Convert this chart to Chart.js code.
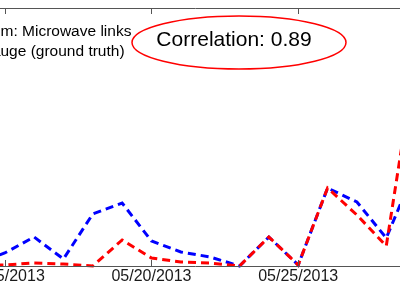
<!DOCTYPE html>
<html>
<head>
<meta charset="utf-8">
<script src="https://cdn.jsdelivr.net/npm/chart.js@4.4.1/dist/chart.umd.min.js"></script>
<style>
  html, body { margin: 0; padding: 0; background: #fff; overflow: hidden; width: 400px; height: 284px; }
  #wrap { position: absolute; left: -142px; top: 0; }
</style>
</head>
<body>
<div id="wrap"><canvas id="chart" width="675" height="284"></canvas></div>
<script>
// the plot is a crop of a wider figure: canvas is shifted left by this much
const OFFSET_X = 142;

// day of May 2013
const days = [14, 15, 16, 17, 18, 19, 20, 21, 22, 23, 24, 25, 26, 27, 28, 29];
const linksRain = [0.2, 1.3, 2.9, 0.7, 5.2, 6.3, 2.5, 1.4, 0.9, 0.0, 2.9, 0.1, 7.8, 6.4, 2.8, 9.8];
const gaugeRain = [0.1, 0.1, 0.3, 0.2, 0.0, 2.6, 0.8, 0.4, 0.3, 0.0, 2.9, 0.1, 7.8, 5.1, 2.0, 20.8];
const tickDays = [15, 20, 25, 30];
const legendLabels = ['Algorithm: Microwave links', 'Rain gauge (ground truth)'];
const correlationText = 'Correlation: 0.89';

const FONT = '"Liberation Sans", Arial, sans-serif';

const toPoints = vals => days.map((d, i) => ({ x: d, y: vals[i] }));

const framePlugin = {
  id: 'frame',
  afterDatasetsDraw(chart) {
    const { ctx, chartArea: a, scales: { x } } = chart;
    ctx.save();
    ctx.strokeStyle = '#555';
    ctx.lineWidth = 1;
    ctx.beginPath();
    ctx.moveTo(a.left, a.top + 0.5); ctx.lineTo(a.right, a.top + 0.5);
    ctx.moveTo(a.left, a.bottom + 0.5); ctx.lineTo(a.right, a.bottom + 0.5);
    tickDays.forEach(d => {
      const px = Math.round(x.getPixelForValue(d)) + 0.5;
      ctx.moveTo(px, a.top); ctx.lineTo(px, a.top + 6);
      ctx.moveTo(px, a.bottom); ctx.lineTo(px, a.bottom - 6);
    });
    ctx.stroke();
    ctx.restore();
  },
  afterDraw(chart) {
    const ctx = chart.ctx;
    ctx.save();
    // legend (box off, its left part is outside the crop)
    ctx.font = '15.5px ' + FONT;
    ctx.fillStyle = '#000';
    ctx.textBaseline = 'middle';
    ctx.textAlign = 'left';
    ctx.fillText(legendLabels[0], OFFSET_X + 0.5 - ctx.measureText('Algorith').width, 32);
    ctx.fillText(legendLabels[1], OFFSET_X + 0.5 - ctx.measureText('Rain ga').width, 52);

    // correlation bubble
    ctx.strokeStyle = '#ff0000';
    ctx.lineWidth = 1.5;
    ctx.beginPath();
    ctx.ellipse(OFFSET_X + 239, 42.5, 107, 26.5, 0, 0, Math.PI * 2);
    ctx.stroke();
    ctx.font = '21px ' + FONT;
    ctx.textAlign = 'center';
    ctx.fillText(correlationText, OFFSET_X + 234, 40);
    ctx.restore();
  }
};

new Chart(document.getElementById('chart'), {
  type: 'line',
  data: {
    datasets: [
      {
        label: legendLabels[1],
        data: toPoints(gaugeRain),
        borderColor: '#ff0000',
        borderWidth: 3,
        borderDash: [8, 5],
        borderDashOffset: 6,
        pointRadius: 0,
        tension: 0,
        clip: false,
        order: 0
      },
      {
        label: legendLabels[0],
        data: toPoints(linksRain),
        borderColor: '#0000ff',
        borderWidth: 3,
        borderDash: [8, 5],
        pointRadius: 0,
        tension: 0,
        clip: false,
        order: 1
      }
    ]
  },
  options: {
    responsive: false,
    animation: false,
    layout: { padding: { top: 8, left: 0, right: 0, bottom: 0 } },
    plugins: { legend: { display: false }, tooltip: { enabled: false } },
    scales: {
      x: {
        type: 'linear',
        min: 10,
        max: 33,
        grid: { display: false, drawTicks: false },
        border: { display: false },
        afterBuildTicks: s => { s.ticks = tickDays.map(v => ({ value: v })); },
        afterFit: s => { s.height = 18; },
        ticks: {
          padding: 1,
          maxRotation: 0,
          autoSkip: false,
          color: '#1a1a1a',
          font: { family: FONT, size: 16 },
          callback: v => '05/' + String(v).padStart(2, '0') + '/2013'
        }
      },
      y: {
        display: false,
        min: 0,
        max: 25.8
      }
    }
  },
  plugins: [framePlugin]
});
</script>
</body>
</html>
